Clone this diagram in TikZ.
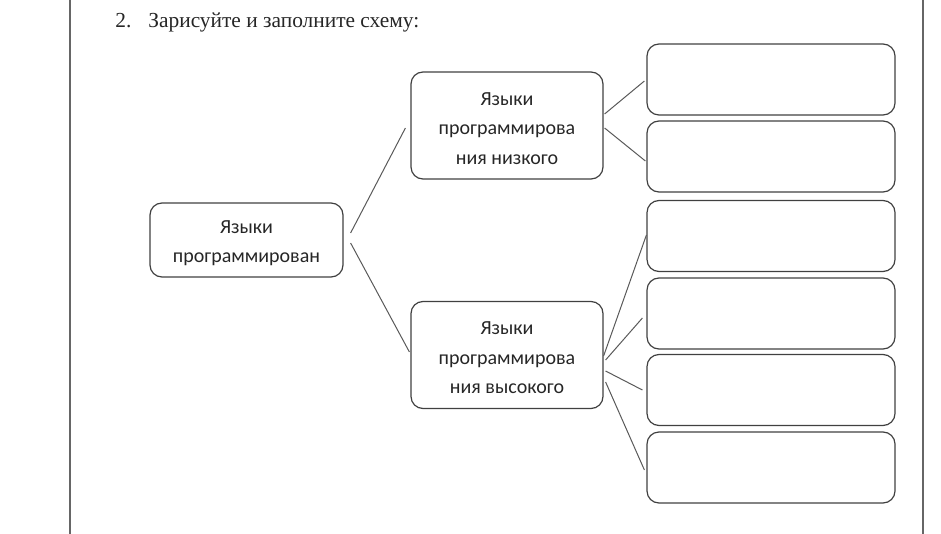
\documentclass[tikz,border=0pt]{standalone}
\usepackage{fontspec}
\setmainfont{Liberation Serif}
\newfontfamily\boxfont{Carlito}
\usepackage{tikz}
\tikzstyle{fHeading} = [anchor=base west, inner sep=0pt, font=\fontsize{10.7}{12}\selectfont, text=black!85]
\tikzstyle{fRoot} = [rectangle, rounded corners=6pt, minimum width=96.5pt, minimum height=37pt, text centered, align=center, draw=black!75, line width=0.6pt, font=\boxfont\fontsize{10}{14.8}\selectfont, text=black!85]
\tikzstyle{fBranch} = [fRoot, minimum width=96pt, minimum height=53.5pt]
\tikzstyle{fBlank} = [fRoot, minimum width=124pt, minimum height=35.5pt]
\tikzstyle{fLink} = [draw=black!65, line width=0.5pt]
\tikzstyle{fFrame} = [draw=black!60, line width=1pt]

\begin{document}
\begin{tikzpicture}[x=0.5pt, y=-0.5pt]
    \useasboundingbox (0,0) rectangle (941,534);
    \draw [fFrame] (70,0) -- (70,534);
    \draw [fFrame] (923,0) -- (923,534);

    \node (num) [fHeading] at (115,28) {2.};
    \node (heading) [fHeading] at (148,28) {Зарисуйте и заполните схему:};

    \node (root) [fRoot] at (246.5,240) {};
    \node (rootText) at ([yshift=-1.5pt]root.center) [align=center, font=\boxfont\fontsize{10}{14.8}\selectfont, text=black!85] {Языки\\программирован};
    \node (low) [fBranch] at (507,125.5) {};
    \node (lowText) at ([yshift=-1.5pt]low.center) [align=center, font=\boxfont\fontsize{10}{14.8}\selectfont, text=black!85] {Языки\\программирова\\ния низкого};
    \node (high) [fBranch] at (507,355) {};
    \node (highText) at ([yshift=-1.5pt]high.center) [align=center, font=\boxfont\fontsize{10}{14.8}\selectfont, text=black!85] {Языки\\программирова\\ния высокого};

    \node (r1) [fBlank] at (771,79.5) {};
    \node (r2) [fBlank] at (771,156.5) {};
    \node (r3) [fBlank] at (771,236) {};
    \node (r4) [fBlank] at (771,313.5) {};
    \node (r5) [fBlank] at (771,390) {};
    \node (r6) [fBlank] at (771,467.5) {};

    \draw [fLink] ([shift={(7,-7)}]root.east) -- ([shift={(-5,2.5)}]low.west);
    \draw [fLink] ([shift={(7,3)}]root.east) -- ([shift={(-1,-3)}]high.west);
    \draw [fLink] ([shift={(1,-11.5)}]low.east) -- ([shift={(-2,1.5)}]r1.west);
    \draw [fLink] ([shift={(1,2.5)}]low.east) -- ([shift={(-1,4.5)}]r2.west);
    \draw [fLink] ([shift={(0,1)}]high.east) -- ([shift={(0,-1)}]r3.west);
    \draw [fLink] ([shift={(2,5)}]high.east) -- ([shift={(-4,4.5)}]r4.west);
    \draw [fLink] ([shift={(2,16)}]high.east) -- ([shift={(-4,0)}]r5.west);
    \draw [fLink] ([shift={(2,27)}]high.east) -- ([shift={(-2,2.5)}]r6.west);
\end{tikzpicture}
\end{document}
